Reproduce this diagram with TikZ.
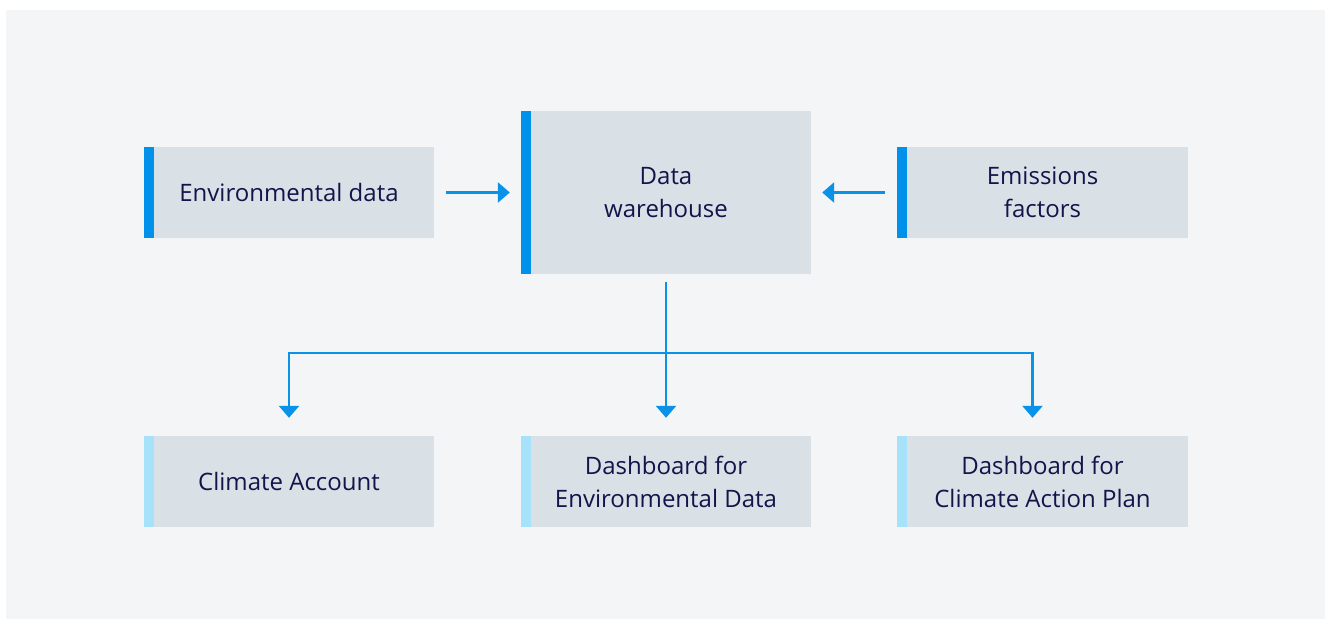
\documentclass[tikz,border=0pt]{standalone}
\usepackage{fontspec}
\setmainfont{Open Sans}
\usetikzlibrary{arrows.meta}
\definecolor{pagebg}{HTML}{F4F5F7}
\definecolor{boxfill}{HTML}{D9E0E6}
\definecolor{barblue}{HTML}{0091EA}
\definecolor{barlight}{HTML}{A6E3FA}
\definecolor{linkblue}{HTML}{0A92E8}
\definecolor{textnavy}{HTML}{14144A}
\tikzset{
 block/.style={rectangle, fill=boxfill, minimum width=290pt, minimum height=91pt,
  inner sep=0pt, text=textnavy, align=center,
  font=\fontsize{24}{33}\selectfont},
 srcbox/.style={block, path picture={\fill[barblue] (path picture bounding box.north west)
  rectangle ([xshift=10pt]path picture bounding box.south west);}},
 outbox/.style={block, path picture={\fill[barlight] (path picture bounding box.north west)
  rectangle ([xshift=10pt]path picture bounding box.south west);}},
 link/.style={draw=linkblue, line width=2.6pt},
 flow/.style={link, -{Triangle[width=20pt,length=12pt]}},
}

\begin{document}
\begin{tikzpicture}[x=1pt,y=-1pt]
\useasboundingbox (0,0) rectangle (1325,619);
\fill[pagebg] (6,10) rectangle (1325,619);

% top row
\node[srcbox] (env) at (289,192.5) {Environmental data};
\node[srcbox, minimum height=163pt] (dw) at (666,192.5) {Data\\warehouse};
\node[srcbox, minimum width=291pt] (emi) at (1042.5,192.5) {Emissions\\factors};

% bottom row
\node[outbox] (ca) at (289,481.5) {Climate Account};
\node[outbox] (dbe) at (666,481.5) {Dashboard for\\Environmental Data};
\node[outbox, minimum width=291pt] (dbc) at (1042.5,481.5) {Dashboard for\\Climate Action Plan};

\draw[flow, shorten <=12pt, shorten >=11pt] (env.east) -- (dw.west);
\draw[flow, shorten <=12pt, shorten >=11pt] (emi.west) -- (dw.east);

\coordinate (split) at (666,353);
\draw[link, shorten <=8pt] (dw.south) -- (split);
\draw[flow, shorten >=18pt] (split) -| (ca.north);
\draw[flow, shorten >=18pt] (split) -- (dbe.north);
\draw[flow, shorten >=18pt] (split) -| ([xshift=-10pt]dbc.north);
\end{tikzpicture}
\end{document}
